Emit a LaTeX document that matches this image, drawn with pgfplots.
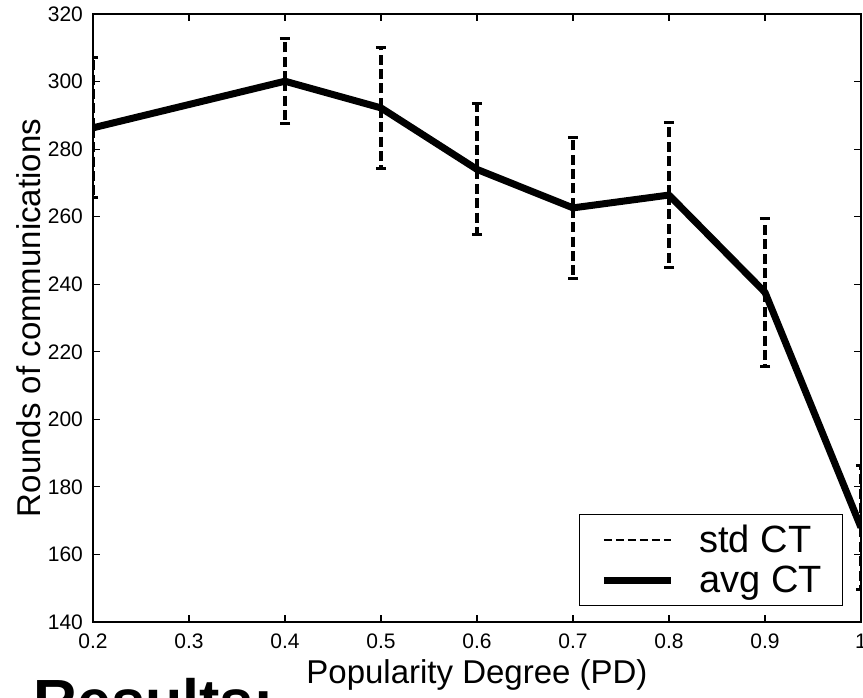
\documentclass[border=0pt]{standalone}
\usepackage{pgfplots}
\usepackage{pgfplotstable}
\pgfplotsset{compat=1.18}
\usepackage{fontspec}
\setmainfont{Liberation Sans}

% PD, mean rounds, std
\pgfplotstableread{
x   y     err
0.2 286.3 20.7
0.4 300.1 12.5
0.5 292.2 18.0
0.6 274.0 19.4
0.7 262.6 20.8
0.8 266.4 21.5
0.9 237.6 22.0
1.0 168.0 18.3
}\ctdata

\begin{document}
\begin{tikzpicture}
\useasboundingbox (-46.5pt,-37.5pt) rectangle (385pt,311pt);
\begin{axis}[
  scale only axis,
  width=384pt, height=304pt,
  xmin=0.2, xmax=1, ymin=140, ymax=320,
  xtick={0.2,0.3,0.4,0.5,0.6,0.7,0.8,0.9,1},
  xticklabels={0.2,0.3,0.4,0.5,0.6,0.7,0.8,0.9,1},
  ytick={140,160,180,200,220,240,260,280,300,320},
  tick align=inside,
  major tick length=3.5pt,
  axis line style={line width=0.6pt},
  every tick/.style={black, line width=0.6pt},
  tick label style={font=\fontsize{10.5}{12}\selectfont},
  /pgf/number format/assume math mode=true,
  xticklabel style={yshift=-2.5pt},
  yticklabel style={xshift=-1.5pt},
  xlabel={Popularity Degree (PD)},
  ylabel={Rounds of communications},
  every axis x label/.style={at={(rel axis cs:0.5,0)}, anchor=base, yshift=-30.5pt,
    font=\fontsize{16.5}{19}\selectfont},
  every axis y label/.style={at={(rel axis cs:0,0.5)}, xshift=-32pt, rotate=90, anchor=center,
    font=\fontsize{16.5}{19}\selectfont},
  legend style={draw=black, line width=0.5pt, fill=white,
    at={(rel axis cs:0.977,0.026)}, anchor=south east,
    font=\fontsize{19}{20}\selectfont,
    inner xsep=10.5pt, inner ysep=5pt,
    column sep=12.5pt, row sep=5.5pt,
    nodes={inner sep=0pt}},
  legend cell align=left,
  legend image code/.code={\draw[#1] (0pt,0pt) -- (33.5pt,0pt);},
  every error bar/.append style={line width=1.6pt},
]
\addplot[draw=none, mark=none, forget plot,
  error bars/.cd, y dir=both, y explicit,
  error bar style={draw=black, line width=1.6pt, dash pattern=on 5pt off 2.2pt},
  error mark options={rotate=90, mark size=2.6pt, line width=1.5pt, solid, draw=black}]
  table[x=x, y=y, y error=err]{\ctdata};
\addlegendimage{black, line width=1.1pt, dash pattern=on 4pt off 2pt}
\addlegendentry{std CT\hspace{5pt}}
\addplot[black, line width=3.5pt, line join=round, mark=none] table[x=x, y=y]{\ctdata};
\addlegendentry{avg CT\hspace{5pt}}
\end{axis}
\node[anchor=north west, inner sep=0pt, font=\fontsize{30.5}{36}\selectfont\bfseries] at (-30pt,-28pt) {Results:};
\end{tikzpicture}
\end{document}
